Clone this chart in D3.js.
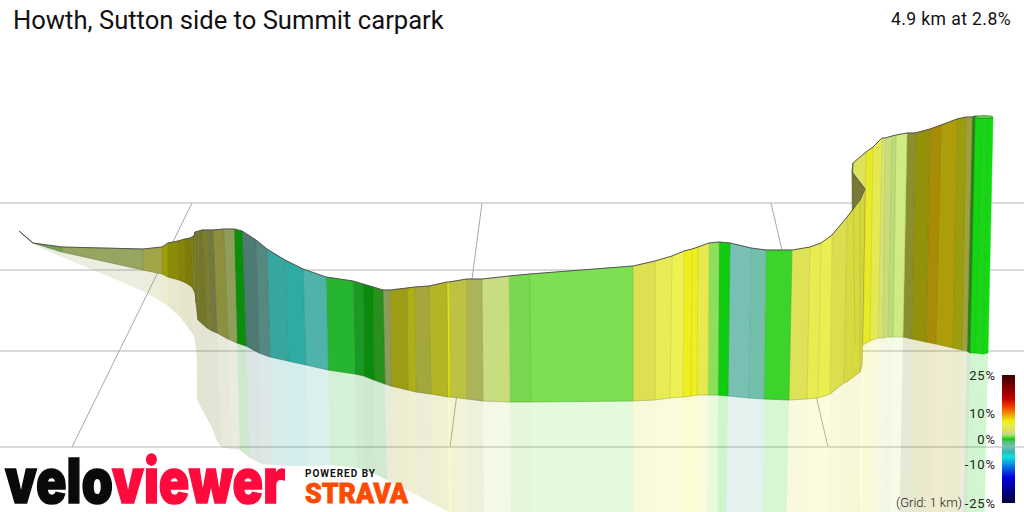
<!DOCTYPE html>
<html>
<head>
<meta charset="utf-8">
<script src="https://cdn.jsdelivr.net/npm/d3@7"></script>
<style>
html, body { margin: 0; padding: 0; background: #fff; overflow: hidden; }
text { font-family: Roboto, sans-serif; }
</style>
</head>
<body>
<script>
// route stations, in riding order. dist = metres along the projected view, elev = projected height
var topDist = [-5,65,210,615,710,740,790,825,850,870,875,895,910,940,965,1020,1070,1110,1180,1235,1325,1415,1530,1665,1715,1765,1815,1850,1935,1975,2045,2135,2145,2235,2310,2445,2550,3065,3175,3260,3320,3360,3390,3445,3495,3550,3655,3730,3860,3950,4005,4060,4135,4155,4200,4225,4160,4165,4200,4230,4265,4310,4325,4360,4380,4435,4475,4550,4605,4685,4730,4760,4775,4810,4840,4865];
var topElev = [140.5,134.5,132.5,131.5,132.5,134.5,135.5,136.5,137,138,140,140.5,141,141,141,141.5,141.5,140.5,136,131.5,126,121.5,117.5,115.5,114,112.5,111,111,112,112.5,113,115,115,116.5,116.5,118,119,123,125.5,128,130.5,131.5,132.5,134.5,135,134.5,132,131,131,132.5,134.5,138.5,147.5,150,156,161.5,170,174.5,177.5,180,182.5,187,187,188,188.5,189.5,189.5,191.5,193.5,196.5,197.5,197.5,198,197.5,197.5,197];
var baseDist = [-5,65,210,615,710,740,795,830,860,875,880,890,935,960,985,1040,1085,1130,1195,1250,1340,1430,1540,1675,1720,1770,1825,1855,1940,1980,2055,2140,2150,2235,2315,2450,2555,3065,3175,3250,3315,3355,3385,3440,3490,3540,3645,3720,3845,3935,3990,4050,4120,4140,4200,4210,4165,4175,4190,4215,4250,4290,4315,4340,4365,4415,4460,4530,4580,4665,4710,4735,4750,4775,4815,4840];
var baseElev = [140.5,134.5,130,121,119,117.5,116,114.5,112.5,109.5,104.5,96,92,90.5,89.5,86.5,84.5,83,79.5,77.5,75.5,73.5,71,69,68,66,64,63,61,60,59,57.5,57.5,56.5,55.5,55,55,55.5,56,57,57.5,58,58.5,58.5,58.5,58,57,56.5,56,56.5,57,59,64.5,65.5,70,73.5,83.5,83.5,83.5,83.5,85.5,87,87,87.5,87.5,87.5,86.5,85,84,82,81,80.5,79.5,79.5,79,79.5];
var shadowElev = [140.5,134,127.5,110.5,105,103,97.5,93,88,81,77,56,42,36,32.5,31.5,31,27,24,23.5,23,23,23.5,22,20.5,19,16,14.5,10.5,8.5,4,0,-1,-9,-9,-9,-9,-9,-9,-9,-9,-9,-9,-9,-9,-9,-9,-9,-9,-9,-9,-9,-9,-9,-9,-9,-9,-9,-9,-9,-9,-9,-9,-9,-9,-9,-9,-9,-9,-9,-9,-9,-9,-9,-9,-9];

// one value per stretch between two stations: gradient (%) and how much light the wall gets
var grade = [1.5,1.5,2,3,7,7,7,7,6,5,5,5,3.5,2.5,3,2,0,-3,-3,-4.6,-5,-4,-0.4,-0.3,0,0.4,2,6.5,6.5,4.5,6,7,5,2.5,2,1,1,4.5,4.6,5,6.6,6.5,5,1.2,0,-3,-2.7,0.4,4,5,5,4.7,5.4,5.4,5.4,3,1,3.8,3.8,6.3,4.7,2.4,2.2,1.8,1.9,5,7.1,8.3,7.7,6.8,4.2,0.5,0,0.1,0];
var light = [0.6,0.72,0.75,0.75,0.66,0.58,0.55,0.52,0.53,0.5,0.5,0.5,0.56,0.55,0.65,0.72,0.7,0.64,0.71,0.89,0.93,0.95,0.91,0.77,0.68,0.68,0.7,0.66,0.73,0.72,0.76,0.96,0.82,0.82,1,0.96,1,0.97,1.01,1.02,1,1,0.99,1,1,1,1,1,0.99,1,1.01,0.95,0.92,0.92,0.9,0.55,0.9,1,1,0.98,1,1.03,1,1,1.07,0.6,0.61,0.7,0.72,0.65,0.7,0.6,1.06,1.03,1.07];

// gradient colour key
var gradeStops = [-25,-15,-7,-5,-3,-1,0,1,2,3,5,7,10,13,16,25];
var gradeColors = ["#00003c","#0000e0","#10e0e0","#30b8b0","#78c0b4","#50c070","#10cc10","#7de052","#c8dc80","#d8dc60","#e8ec50","#f0f010","#f09000","#f03000","#c00000","#3a0000"];
var legendTicks = [25,10,0,-10,-25];

// 1 km grid
var gridRows = [154.5,121,80.5,32.5];
var gridFarDist = [860,2310,3755];
var gridNearDist = [260,2150,4040];

var width = 1024, height = 512;

var x = d3.scaleLinear().domain([0,4875]).range([20,995]);
var y = d3.scaleLinear().domain([0,256]).range([512,0]);
var color = d3.scaleLinear().domain(gradeStops).range(gradeColors).interpolate(d3.interpolateRgb);
var legendY = d3.scaleLinear().domain([25,-25]).range([375,503]);

function segColor(i) {
  var c = d3.rgb(color(grade[i]));
  return d3.rgb(c.r*light[i], c.g*light[i], c.b*light[i]).clamp().formatHex();
}

var svg = d3.select("body").append("svg")
  .attr("width", width)
  .attr("height", height)
  .style("display", "block");

// grid
svg.selectAll(".row").data(gridRows).enter().append("line")
  .attr("x1", 0).attr("x2", width)
  .attr("y1", function(d) { return y(d); })
  .attr("y2", function(d) { return y(d); })
  .attr("stroke", "#b4b4b4").attr("stroke-width", 1);

svg.selectAll(".spoke").data(gridFarDist).enter().append("line")
  .attr("x1", function(d) { return x(d); })
  .attr("y1", y(gridRows[0]))
  .attr("x2", function(d, i) { return x(gridNearDist[i]); })
  .attr("y2", y(gridRows[3]))
  .attr("stroke", "#a8a8a8").attr("stroke-width", 1);

var segs = d3.range(grade.length);

// pale shadow below the wall, runs on along the same slant as the wall
function shadowX(i) {
  var slope = (x(baseDist[i]) - x(topDist[i])) / (y(baseElev[i]) - y(topElev[i]) || 1);
  return x(baseDist[i]) + slope * (y(shadowElev[i]) - y(baseElev[i]));
}

// the stretches round the hairpin are hidden behind the near wall, no shadow for them
svg.selectAll(".shadow").data(segs.filter(function(i) { return i < 55 || i > 58; })).enter().append("path")
  .attr("d", function(i) {
    return "M" + x(baseDist[i]) + "," + y(baseElev[i]) +
      "L" + x(baseDist[i+1]) + "," + y(baseElev[i+1]) +
      "L" + shadowX(i+1) + "," + y(shadowElev[i+1]) +
      "L" + shadowX(i) + "," + y(shadowElev[i]) + "Z";
  })
  .attr("fill", segColor)
  .attr("fill-opacity", 0.2);

// wall, far end first so the hairpin overlaps properly
var walls = svg.append("g");
walls.selectAll("path").data(segs.slice().reverse()).enter().append("path")
  .attr("d", function(i) {
    return "M" + x(topDist[i]) + "," + y(topElev[i]) +
      "L" + x(topDist[i+1]) + "," + y(topElev[i+1]) +
      "L" + x(baseDist[i+1]) + "," + y(baseElev[i+1]) +
      "L" + x(baseDist[i]) + "," + y(baseElev[i]) + "Z";
  })
  .attr("fill", segColor)
  .attr("stroke", segColor)
  .attr("stroke-width", 0.5);

// seams where the colour changes
svg.selectAll(".seam").data(segs.filter(function(i) {
    return i > 0 && i != 55 && i != 56 && (grade[i] != grade[i-1] || light[i] != light[i-1]);
  })).enter().append("line")
  .attr("x1", function(i) { return x(topDist[i]); })
  .attr("y1", function(i) { return y(topElev[i]); })
  .attr("x2", function(i) { return x(baseDist[i]); })
  .attr("y2", function(i) { return y(baseElev[i]); })
  .attr("stroke", "#000").attr("stroke-opacity", 0.12).attr("stroke-width", 0.7);

// edges
var topIdx = d3.range(topDist.length);
var topLine = d3.line().x(function(i) { return x(topDist[i]); }).y(function(i) { return y(topElev[i]); });
var baseLine = d3.line().x(function(i) { return x(baseDist[i]); }).y(function(i) { return y(baseElev[i]); });

svg.append("path").attr("d", baseLine(topIdx.slice(0,56))).attr("fill", "none")
  .attr("stroke", "#000").attr("stroke-opacity", 0.22).attr("stroke-width", 0.7);
svg.append("path").attr("d", baseLine(topIdx.slice(59))).attr("fill", "none")
  .attr("stroke", "#000").attr("stroke-opacity", 0.15).attr("stroke-width", 0.7);
svg.append("path").attr("d", topLine(topIdx.slice(0,56))).attr("fill", "none")
  .attr("stroke", "#555").attr("stroke-width", 1);
svg.append("path").attr("d", topLine(topIdx.slice(55))).attr("fill", "none")
  .attr("stroke", "#555").attr("stroke-width", 1);

// cap at the end of the ribbon
svg.append("ellipse")
  .attr("cx", x(topDist[75] - 45)).attr("cy", y(topElev[74]))
  .attr("rx", 9).attr("ry", 1.5)
  .attr("fill", "#5fcc4a").attr("stroke", "#2a7a2a").attr("stroke-width", 0.6);

// titles
svg.append("text").attr("x", 13).attr("y", 29)
  .attr("font-size", 25.6).attr("fill", "#111")
  .text("Howth, Sutton side to Summit carpark");
svg.append("text").attr("x", 1011).attr("y", 24.5).attr("text-anchor", "end")
  .attr("font-size", 17.6).attr("fill", "#111").attr("letter-spacing", 0.4)
  .text("4.9 km at 2.8%");

// legend
var grad = svg.append("defs").append("linearGradient")
  .attr("id", "gradeKey").attr("x1", 0).attr("x2", 0).attr("y1", 0).attr("y2", 1);
grad.selectAll("stop").data(gradeStops.slice().reverse()).enter().append("stop")
  .attr("offset", function(d) { return (legendY(d) - 375) / 128; })
  .attr("stop-color", function(d) { return color(d); });

svg.append("rect").attr("x", 1002).attr("y", legendY(25))
  .attr("width", 13).attr("height", legendY(-25) - legendY(25))
  .attr("fill", "url(#gradeKey)");

var legendAxis = svg.append("g").attr("transform", "translate(996,0)")
  .call(d3.axisLeft(legendY).tickValues(legendTicks).tickSize(0).tickPadding(0)
    .tickFormat(function(d) { return d + "%"; }));
legendAxis.select(".domain").remove();
legendAxis.selectAll("text")
  .attr("font-family", "Roboto, sans-serif").attr("font-size", 13).attr("letter-spacing", 0.9)
  .attr("fill", "#222");

svg.append("text").attr("x", 962).attr("y", 507).attr("text-anchor", "end")
  .attr("font-size", 13).attr("font-weight", 300).attr("fill", "#222")
  .text("(Grid: 1 km)");

// logos
var logo = svg.append("text").attr("x", 5).attr("y", 503)
  .style("font-family", "Inter, Roboto, sans-serif")
  .attr("font-size", 62).attr("font-weight", 900)
  .attr("stroke-width", 1.6).attr("textLength", 280).attr("lengthAdjust", "spacingAndGlyphs");
logo.append("tspan").attr("fill", "#0a0a0a").attr("stroke", "#0a0a0a").text("velo");
logo.append("tspan").attr("fill", "#ff0a3c").attr("stroke", "#ff0a3c").text("viewer");

svg.append("text").attr("x", 305).attr("y", 477)
  .attr("font-size", 10).attr("font-weight", 700).attr("letter-spacing", 1).attr("fill", "#111")
  .text("POWERED BY");
svg.append("text").attr("x", 305).attr("y", 503)
  .attr("font-size", 27).attr("font-weight", 900).attr("fill", "#fc4c02")
  .attr("stroke", "#fc4c02").attr("stroke-width", 0.8)
  .attr("textLength", 103).attr("lengthAdjust", "spacingAndGlyphs")
  .text("STRAVA");
</script>
</body>
</html>
